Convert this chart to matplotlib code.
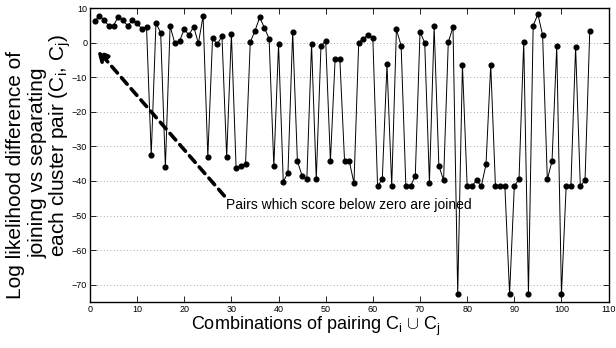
import numpy as np
import matplotlib
matplotlib.use('Agg')
import matplotlib.pyplot as plt

plt.rcParams['font.family'] = ['Liberation Sans', 'DejaVu Sans']
plt.rcParams['mathtext.fontset'] = 'custom'
plt.rcParams['mathtext.rm'] = 'Liberation Sans'
plt.rcParams['mathtext.it'] = 'Liberation Sans'

# log likelihood difference for each candidate pair
pair_idx = np.arange(1, 107)
log_lik_diff = [
    6.1, 7.8, 6.4, 4.9, 4.9, 7.5, 6.4, 4.9, 6.4, 5.6,
    4.0, 4.6, -32.5, 5.6, 2.9, -36.0, 4.8, -0.2, 0.4, 3.9,
    2.2, 4.6, -0.2, 7.7, -33.1, 1.3, -0.5, 1.9, -33.1, 2.5,
    -36.3, -35.6, -35.0, 0.1, 3.4, 7.3, 4.3, 1.1, -35.8, -0.4,
    -40.2, -37.6, 3.1, -34.3, -38.5, -39.5, -0.4, -39.5, -1.0, 0.6,
    -34.3, -4.7, -4.7, -34.3, -34.3, -40.6, 0.0, 1.1, 2.3, 1.2,
    -41.5, -39.5, -6.3, -41.5, 3.8, -0.9, -41.5, -41.5, -38.5, 3.0,
    0.0, -40.6, 4.7, -35.6, -39.8, 0.1, 4.5, -72.7, -6.4, -41.5,
    -41.5, -39.8, -41.5, -35.2, -6.4, -41.5, -41.5, -41.5, -72.7, -41.5,
    -39.4, 0.3, -72.7, 4.9, 8.2, 2.2, -39.5, -34.3, -0.9, -72.7,
    -41.5, -41.5, -1.2, -41.5, -39.8, 3.3,
]
x_ticks = np.arange(0, 111, 10)
y_ticks = np.arange(-70, 11, 10)
ylabel_lines = ['Log likelihood difference of',
                'joining vs separating',
                r'each cluster pair (C$_i$, C$_j$)']

fig = plt.figure(figsize=(6.16, 3.48), dpi=100)
ax = fig.add_axes([0.146, 0.132, 0.842, 0.845])

ax.plot(pair_idx, log_lik_diff, '-', color='k', lw=0.7,
        marker='o', ms=3.4, mfc='k', mec='k')

ax.set_xlim(0, 110)
ax.set_ylim(-75, 10)
ax.set_xticks(x_ticks)
ax.set_yticks(y_ticks)
ax.yaxis.grid(True, ls=(0, (1, 3)), color='0.55', lw=0.6)
ax.tick_params(direction='in', top=True, right=True, length=4, width=0.6,
               labelsize=6.5, pad=2)
for s in ax.spines.values():
    s.set_linewidth(1.0)

ax.set_xlabel(r'Combinations of pairing C$_i$ $\cup$ C$_j$', fontsize=13)
ax.xaxis.set_label_coords(0.436, -0.045)

# y label: three lines, placed one by one like the original (not quite centred)
for txt, xf, yf in zip(ylabel_lines, [0.025, 0.0625, 0.0975], [0.497, 0.532, 0.583]):
    fig.text(xf, yf, txt, rotation=90, fontsize=15, ha='center', va='center')

ax.annotate('', xy=(1.5, -2.0), xytext=(28.5, -44.3),
            arrowprops=dict(arrowstyle='-|>', color='k', lw=2.6,
                            ls=(0, (2.4, 1.7)), mutation_scale=16,
                            shrinkA=0, shrinkB=0))
ax.text(28.8, -46.8, 'Pairs which score below zero are joined',
        fontsize=10, ha='left', va='center')

fig.savefig('out.png', dpi=100)
